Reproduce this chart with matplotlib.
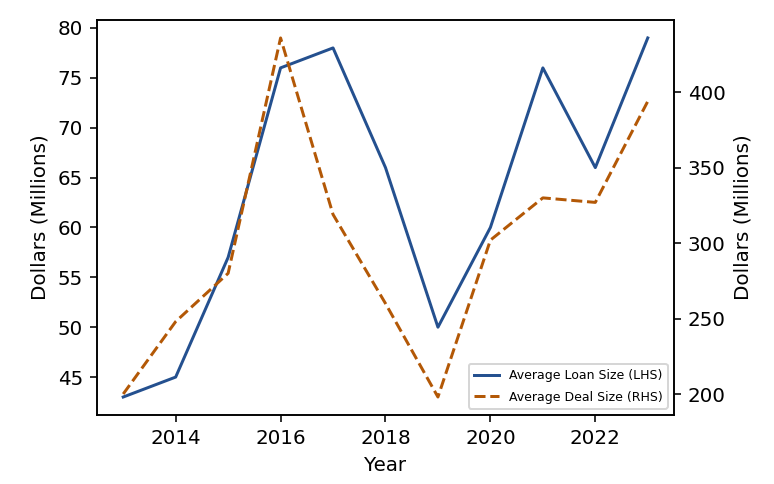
import matplotlib
matplotlib.use("Agg")
import matplotlib.pyplot as plt

# Data
YEARS = [2013, 2014, 2015, 2016, 2017, 2018, 2019, 2020, 2021, 2022, 2023]
LOAN_SIZE = [43, 45, 57, 76, 78, 66, 50, 60, 76, 66, 79]
DEAL_SIZE = [200, 248, 280, 436, 319, 260, 198, 302, 330, 327, 394]

BLUE = "#24508f"
ORANGE = "#b35806"
DPI = 143


def main():
    fig = plt.figure(figsize=(774 / DPI, 484 / DPI), dpi=DPI)
    ax = fig.add_axes([0.1253, 0.1426, 0.7455, 0.8161])
    ax2 = ax.twinx()

    l1, = ax.plot(YEARS, LOAN_SIZE, color=BLUE, label="Average Loan Size (LHS)")
    l2, = ax2.plot(YEARS, DEAL_SIZE, color=ORANGE, ls="--", label="Average Deal Size (RHS)")

    ax.set_xlabel("Year")
    ax.set_ylabel("Dollars (Millions)")
    ax2.set_ylabel("Dollars (Millions)")
    ax2.set_yticks([200, 250, 300, 350, 400])

    ax2.legend(handles=[l1, l2], loc="lower right", fontsize=6.3, labelspacing=0.7)

    fig.savefig("out.png", dpi=DPI)


if __name__ == "__main__":
    main()
